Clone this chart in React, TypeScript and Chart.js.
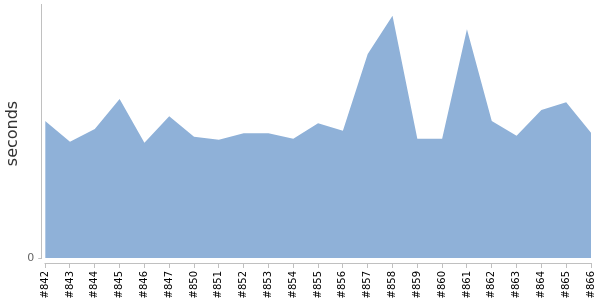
import React, { useEffect, useRef } from "react";
import { Chart, registerables } from "chart.js";

Chart.register(...registerables);

const buildLabels: string[] = [
  "#842", "#843", "#844", "#845", "#846", "#847", "#850", "#851", "#852", "#853", "#854", "#855",
  "#856", "#857", "#858", "#859", "#860", "#861", "#862", "#863", "#864", "#865", "#866",
];

const durations: number[] = [
  137, 116.3, 129, 159, 115.3, 141.7, 121.3, 118.3, 124.7, 124.7, 119.3, 134.7,
  127.3, 204, 242.3, 119.3, 119.3, 228.7, 137, 122.3, 148, 155.7, 125.3,
];

const yTickValues: number[] = [0];

const AXIS_COLOR = "#c0c0c0";
const FILL_COLOR = "rgb(143,177,216)";

const axisLinesPlugin = {
  id: "axisLines",
  afterDraw(chart: any) {
    const { ctx, chartArea, scales } = chart;
    const x = scales.x;
    const y = scales.y;
    ctx.save();
    ctx.strokeStyle = AXIS_COLOR;
    ctx.lineWidth = 1;
    ctx.beginPath();
    const lx = Math.round(chartArea.left) - 0.5;
    ctx.moveTo(lx, chartArea.top);
    ctx.lineTo(lx, Math.round(y.getPixelForValue(0)) + 0.5);
    const by = Math.round(chartArea.bottom) + 0.5;
    ctx.moveTo(Math.round(x.getPixelForValue(0)) - 0.5, by);
    ctx.lineTo(Math.round(x.getPixelForValue(buildLabels.length - 1)) + 0.5, by);
    ctx.stroke();
    ctx.restore();
  },
};

export default function App() {
  const canvasRef = useRef<HTMLCanvasElement | null>(null);

  useEffect(() => {
    document.body.style.margin = "0";
    const canvas = canvasRef.current;
    if (!canvas) return;
    const chart = new Chart(canvas, {
      type: "line",
      data: {
        datasets: [
          {
            data: buildLabels.map((_, i) => ({ x: i, y: durations[i] })),
            fill: "origin",
            backgroundColor: FILL_COLOR,
            borderColor: "rgba(0,0,0,0)",
            borderWidth: 1,
            pointRadius: 0,
            tension: 0,
          },
        ],
      },
      options: {
        animation: false,
        responsive: false,
        maintainAspectRatio: false,
        layout: { padding: { top: 4, right: 0, left: 0, bottom: 0 } },
        plugins: {
          legend: { display: false },
          tooltip: { enabled: false },
        },
        scales: {
          x: {
            type: "linear",
            min: -0.12,
            max: buildLabels.length - 1,
            afterBuildTicks: (scale: any) => {
              scale.ticks = buildLabels.map((_, i) => ({ value: i }));
            },
            afterFit: (scale: any) => {
              scale.height = 37;
              scale.paddingRight = 9;
            },
            ticks: {
              autoSkip: false,
              maxRotation: 90,
              minRotation: 90,
              padding: 3,
              color: "#000",
              font: { family: "DejaVu Sans", size: 10 },
              callback: (v: any) => buildLabels[Math.round(Number(v))] ?? "",
            },
            grid: {
              display: true,
              drawOnChartArea: false,
              drawTicks: true,
              tickLength: 5,
              color: AXIS_COLOR,
            },
            border: { display: false },
          },
          y: {
            type: "linear",
            min: -5,
            max: 254,
            afterBuildTicks: (scale: any) => {
              scale.ticks = yTickValues.map((v) => ({ value: v }));
            },
            afterFit: (scale: any) => {
              scale.paddingTop = 0;
              scale.paddingBottom = 0;
            },
            ticks: {
              padding: 4,
              color: "#666",
              font: { family: "DejaVu Sans", size: 11 },
              callback: (v: any) => String(v),
            },
            grid: {
              display: true,
              drawOnChartArea: false,
              drawTicks: true,
              tickLength: 4,
              color: AXIS_COLOR,
            },
            border: { display: false },
            title: {
              display: true,
              text: "seconds",
              color: "#333",
              font: { family: "DejaVu Sans", size: 16 },
              padding: { top: 3, bottom: 1 },
            },
          },
        },
      },
      plugins: [axisLinesPlugin],
    });
    return () => chart.destroy();
  }, []);

  return (
    <div style={{ width: 600, height: 300 }}>
      <canvas ref={canvasRef} width={600} height={300} style={{ display: "block" }} />
    </div>
  );
}
